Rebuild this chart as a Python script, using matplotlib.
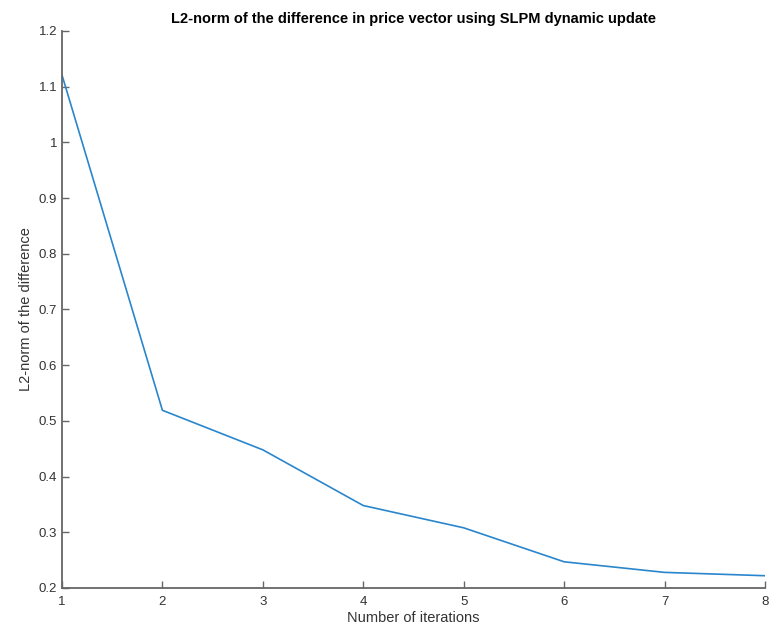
import matplotlib.pyplot as plt
from matplotlib.ticker import FuncFormatter

iterations = [1, 2, 3, 4, 5, 6, 7, 8]
l2_norm = [1.121, 0.519, 0.448, 0.348, 0.308, 0.247, 0.228, 0.222]

plt.rcParams['font.family'] = ['Liberation Sans', 'DejaVu Sans']

fig = plt.figure(figsize=(7.7, 6.3), dpi=100)
ax = fig.add_axes([0.0805, 0.0667, 0.913, 0.8841])

ax.plot(iterations, l2_norm, color='#2a86cc', linewidth=1.2)

ax.set_xlim(1, 8)
ax.set_ylim(0.2, 1.2)
ax.set_xticks(iterations)
ax.set_yticks([0.2, 0.3, 0.4, 0.5, 0.6, 0.7, 0.8, 0.9, 1.0, 1.1, 1.2])
ax.yaxis.set_major_formatter(FuncFormatter(lambda v, p: '%g' % round(v, 2)))

# matlab look: box off, grey axes, ticks inside
for s in ['top', 'right']:
    ax.spines[s].set_visible(False)
for s in ['left', 'bottom']:
    ax.spines[s].set_color('#666666')
    ax.spines[s].set_linewidth(1.3)
ax.tick_params(direction='in', length=5, width=1, colors='#666666', labelsize=9.5,
               labelcolor='#333333')
ax.tick_params(axis='x', pad=6)

ax.set_xlabel('Number of iterations', fontsize=10.5, color='#333333', labelpad=2)
ax.set_ylabel('L2-norm of the difference', fontsize=10.5, color='#333333', labelpad=4)
ax.set_title('L2-norm of the difference in price vector using SLPM dynamic update',
             fontsize=10.5, fontweight='bold', pad=6)

plt.savefig('out.png', dpi=100)
